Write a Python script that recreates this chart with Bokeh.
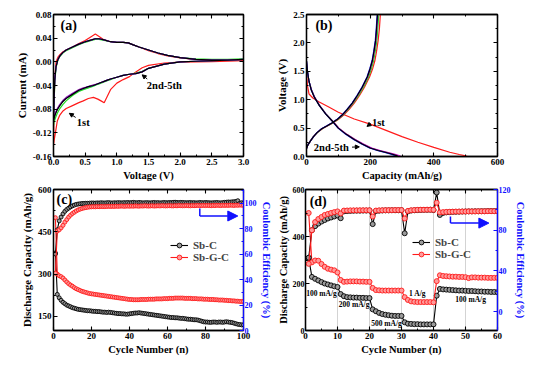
from bokeh.plotting import figure
from bokeh.layouts import row, column
from bokeh.models import (Range1d, LinearAxis, FixedTicker, Label, Arrow, NormalHead,
                          Legend, LegendItem, PrintfTickFormatter, CustomLabelingPolicy)
from bokeh.embed import file_html
from bokeh.resources import INLINE

FONT = "Liberation Serif"

# ---------------- (a) cyclic voltammetry ----------------
v_cath = [3.0, 2.75, 2.5, 2.25, 2.0, 1.75, 1.5, 1.4, 1.3, 1.2, 1.1, 1.0, 0.9, 0.85, 0.8, 0.75, 0.7,
          0.63, 0.55, 0.47, 0.4, 0.3, 0.2, 0.15, 0.1, 0.06, 0.03, 0.01, 0.0]
v_anod = [0.0, 0.01, 0.02, 0.04, 0.07, 0.1, 0.15, 0.2, 0.3, 0.4, 0.5, 0.6, 0.66, 0.72, 0.8, 0.9, 1.0,
          1.1, 1.18, 1.25, 1.35, 1.5, 1.65, 1.8, 2.0, 2.25, 2.5, 2.75, 3.0]
cv1_cath = [0.002, 0.001, 0.0005, 0.0, -0.0005, -0.002, -0.006, -0.010, -0.017, -0.025, -0.030, -0.036,
            -0.047, -0.058, -0.069, -0.066, -0.063, -0.060, -0.062, -0.066, -0.069, -0.074, -0.079,
            -0.083, -0.090, -0.100, -0.120, -0.133, -0.140]
cv1_anod = [-0.140, -0.070, -0.030, 0.0, 0.008, 0.012, 0.017, 0.020, 0.025, 0.031, 0.036, 0.043, 0.047,
            0.043, 0.037, 0.034, 0.033, 0.033, 0.032, 0.029, 0.025, 0.019, 0.014, 0.010, 0.0065,
            0.004, 0.003, 0.0025, 0.002]
cv2_cath = [0.004, 0.003, 0.002, 0.001, 0.0, -0.004, -0.011, -0.016, -0.019, -0.021, -0.023, -0.026,
            -0.030, -0.032, -0.034, -0.036, -0.038, -0.041, -0.044, -0.047, -0.050, -0.057, -0.066,
            -0.072, -0.079, -0.087, -0.095, -0.102, -0.108]
cv2_anod = [-0.108, -0.070, -0.035, -0.010, 0.003, 0.009, 0.015, 0.019, 0.024, 0.029, 0.033, 0.036,
            0.038, 0.038, 0.036, 0.034, 0.033, 0.033, 0.032, 0.029, 0.025, 0.020, 0.015, 0.011, 0.007,
            0.005, 0.004, 0.004, 0.005]
cv3_cath = [0.004, 0.003, 0.002, 0.001, 0.0, -0.004, -0.011, -0.017, -0.020, -0.021, -0.023, -0.026,
            -0.029, -0.031, -0.033, -0.035, -0.037, -0.040, -0.042, -0.045, -0.048, -0.054, -0.061,
            -0.066, -0.073, -0.080, -0.087, -0.094, -0.099]
cv3_anod = [-0.099, -0.060, -0.030, -0.008, 0.004, 0.010, 0.016, 0.020, 0.025, 0.030, 0.034, 0.037,
            0.039, 0.039, 0.037, 0.034, 0.033, 0.033, 0.032, 0.029, 0.025, 0.020, 0.015, 0.011, 0.007,
            0.004, 0.003, 0.003, 0.004]
cv4_cath = [0.004, 0.003, 0.002, 0.001, 0.0, -0.004, -0.011, -0.017, -0.020, -0.021, -0.023, -0.026,
            -0.029, -0.031, -0.033, -0.035, -0.037, -0.039, -0.042, -0.044, -0.047, -0.053, -0.060,
            -0.065, -0.072, -0.079, -0.086, -0.092, -0.097]
cv4_anod = [-0.097, -0.058, -0.029, -0.008, 0.004, 0.010, 0.016, 0.020, 0.025, 0.030, 0.034, 0.037,
            0.039, 0.039, 0.037, 0.034, 0.033, 0.033, 0.032, 0.029, 0.025, 0.020, 0.015, 0.011, 0.007,
            0.004, 0.003, 0.003, 0.004]
cv5_cath = [0.004, 0.003, 0.002, 0.001, 0.0, -0.004, -0.011, -0.017, -0.020, -0.021, -0.023, -0.026,
            -0.029, -0.031, -0.033, -0.035, -0.037, -0.040, -0.042, -0.045, -0.048, -0.055, -0.062,
            -0.067, -0.074, -0.081, -0.088, -0.095, -0.100]
cv5_anod = [-0.100, -0.060, -0.030, -0.008, 0.004, 0.010, 0.016, 0.020, 0.025, 0.030, 0.034, 0.037,
            0.039, 0.039, 0.037, 0.034, 0.033, 0.033, 0.032, 0.029, 0.025, 0.020, 0.015, 0.011, 0.007,
            0.004, 0.003, 0.003, 0.004]

# ---------------- (b) charge / discharge ----------------
v_dis1 = [1.48, 1.25, 1.10, 1.03, 0.96, 0.87, 0.78, 0.66, 0.57, 0.46, 0.35, 0.25, 0.16, 0.075, 0.035, 0.01, 0.0]
cap_dis1 = [0, 3, 8, 20, 40, 70, 100, 150, 200, 250, 300, 350, 400, 450, 480, 500, 505]
v_dis = [1.68, 1.50, 1.32, 1.17, 1.04, 0.90, 0.75, 0.63, 0.50, 0.39, 0.30, 0.22, 0.15, 0.105, 0.07, 0.04, 0.01, 0.0]
cap_dis2 = [0, 3, 8, 16, 26, 41, 61, 81, 101, 126, 152, 177, 202, 228, 253, 273, 288, 291]
cap_dis3 = [0, 3, 8, 15, 25, 40, 60, 79, 99, 123, 148, 173, 198, 222, 246, 265, 280, 283]
cap_dis4 = [0, 3, 8, 16, 26, 41, 61, 81, 102, 127, 153, 179, 205, 231, 257, 278, 293, 296]
cap_dis5 = [0, 3, 8, 15, 25, 40, 60, 80, 100, 125, 150, 175, 200, 225, 250, 270, 285, 288]
v_chg = [0.14, 0.21, 0.27, 0.35, 0.42, 0.49, 0.54, 0.59, 0.65, 0.73, 0.83, 0.94, 1.07, 1.22, 1.40, 1.55,
         1.69, 1.85, 2.04, 2.25, 2.5]
cap_chg1 = [0, 5, 12, 22, 34, 50, 67, 83, 100, 117, 134, 150, 166, 182, 198, 208, 215, 220, 225, 229, 232]
cap_chg2 = [0, 5, 12, 22, 34, 49, 66, 82, 98, 115, 131, 147, 163, 179, 195, 204, 211, 216, 221, 224, 227]
cap_chg3 = [0, 5, 12, 22, 33, 47, 64, 79, 95, 111, 127, 143, 158, 174, 190, 199, 206, 211, 216, 219, 222]
cap_chg4 = [0, 5, 12, 22, 33, 48, 65, 80, 96, 113, 129, 145, 160, 176, 192, 201, 208, 213, 218, 221, 224]
cap_chg5 = [0, 5, 12, 22, 33, 48, 65, 80, 96, 112, 128, 144, 159, 175, 191, 200, 207, 212, 217, 220, 223]

# ---------------- (c) cycling ----------------
cyc_c = list(range(1, 101))
sbc_cap_c = [375, 228, 216, 207, 200, 195, 190, 187, 184, 181,
             179, 177, 175, 174, 173, 172, 171, 170, 170, 169,
             168, 168, 167, 167, 166, 165, 165, 164, 165, 164,
             163, 162, 161, 160, 160, 159, 159, 158, 158, 159,
             160, 161, 162, 162, 163, 162, 161, 160, 159, 158,
             157, 156, 155, 154, 153, 152, 151, 150, 149, 148,
             147, 146, 146, 145, 145, 144, 143, 143, 142, 141,
             140, 140, 139, 138, 138, 137, 135, 133, 131, 130,
             130, 129, 129, 130, 130, 129, 130, 130, 129, 130,
             131, 130, 129, 128, 126, 124, 122, 121, 120, 120]
sbgc_cap_c = [500, 300, 294, 291, 286, 279, 272, 266, 261, 257,
              252, 248, 245, 242, 239, 237, 235, 233, 231, 230,
              229, 228, 227, 226, 225, 224, 223, 222, 221, 220,
              219, 218, 217, 216, 215, 214, 213, 212, 211, 210,
              210, 209, 209, 209, 209, 210, 210, 210, 210, 211,
              211, 211, 211, 212, 212, 212, 212, 213, 213, 213,
              214, 214, 214, 215, 215, 215, 215, 215, 214, 214,
              214, 214, 213, 213, 213, 212, 212, 212, 211, 211,
              211, 210, 210, 210, 209, 209, 208, 208, 208, 207,
              207, 206, 206, 205, 205, 204, 204, 203, 203, 203]
sbc_ce_c = [60, 79, 86, 89, 91.5, 93.5, 95, 96, 97, 97.8,
            98.4, 98.9, 99.2, 99.4, 99.6, 99.7, 99.8, 99.8, 99.9, 100,
            100, 99.9, 100.1, 100, 100.2, 100.1, 100, 100.2, 100.3, 100.1,
            100, 100.2, 100.1, 100.3, 100.2, 100.1, 100.3, 100.2, 100.4, 100.2,
            100.3, 100.5, 100.3, 100.2, 100.4, 100.3, 100.1, 100.2, 100.3, 100.2,
            100.1, 100.3, 100.4, 100.2, 100.3, 100.1, 100.2, 100.4, 100.3, 100.2,
            100.4, 100.3, 100.5, 100.6, 100.4, 100.3, 100.5, 100.4, 100.3, 100.2,
            100.3, 100.4, 100.2, 100.3, 100.1, 100.2, 100.4, 100.3, 100.2, 100.4,
            100.3, 100.2, 100.1, 100.2, 100.3, 100.4, 100.2, 100.1, 100.3, 100.5,
            100.6, 100.8, 100.7, 100.9, 101.0, 101.2, 101.8, 99.8, 100.2, 100.0]
sbgc_ce_c = [45, 78, 79, 80.5, 82.5, 85, 87, 89, 90.5, 91.8,
             92.8, 93.8, 94.6, 95.2, 95.7, 96.1, 96.4, 96.7, 96.9, 97.0,
             97.1, 97.0, 97.2, 97.1, 97.3, 97.2, 97.2, 97.3, 97.4, 97.3,
             97.4, 97.3, 97.5, 97.4, 97.5, 97.6, 97.4, 97.5, 97.6, 97.5,
             97.6, 97.5, 97.7, 97.6, 97.5, 97.7, 97.6, 97.8, 97.7, 97.6,
             97.7, 97.8, 97.6, 97.7, 97.8, 97.7, 97.9, 97.8, 97.7, 97.8,
             97.9, 97.8, 97.7, 97.9, 97.8, 98.0, 97.9, 97.8, 97.9, 98.0,
             97.9, 97.8, 98.0, 97.9, 98.0, 98.1, 97.9, 98.0, 98.1, 98.0,
             98.1, 98.0, 97.9, 98.1, 98.0, 98.2, 98.1, 98.0, 98.2, 98.1,
             98.2, 98.1, 98.3, 98.2, 98.1, 98.3, 98.2, 98.4, 98.3, 98.2]

# ---------------- (d) rate ----------------
cyc_d = list(range(1, 61))
sbc_cap_d = [308, 228, 220, 213, 206, 200, 196, 192, 188, 185,
             155, 146, 142, 141, 140, 140, 139, 139, 138, 138,
             90, 82, 75, 70, 67, 65, 63, 62, 62, 62,
             35, 29, 28, 27, 27, 26, 26, 26, 26, 26,
             148, 177, 175, 174, 173, 172, 171, 170, 170, 169,
             168, 168, 167, 166, 166, 165, 165, 164, 164, 163]
sbgc_cap_d = [500, 290, 298, 297, 283, 271, 263, 259, 256, 247,
              215, 207, 208, 209, 209, 209, 208, 208, 207, 207,
              181, 172, 171, 170, 170, 170, 170, 170, 170, 170,
              142, 130, 124, 122, 121, 121, 121, 121, 121, 120,
              210, 235, 232, 231, 230, 229, 229, 228, 228, 227,
              223, 226, 226, 225, 225, 225, 224, 224, 224, 224]
sbc_ce_d = [53, 80, 84, 86.5, 88.5, 90, 91.5, 92.5, 93.5, 94.5,
            91.8, 98.5, 98.8, 99, 99.1, 99.2, 99.2, 99.3, 99.3, 99.4,
            86, 98.8, 99.2, 99.4, 99.5, 99.5, 99.6, 99.6, 99.6, 99.7,
            77, 98.5, 99.3, 99.6, 99.8, 99.9, 100, 100, 100.1, 99.8,
            117, 95, 97, 97.5, 97.8, 98, 98.1, 98.2, 98.3, 98.4,
            98.5, 98.5, 98.6, 98.6, 98.7, 98.7, 98.8, 98.8, 98.8, 98.9]
sbgc_ce_d = [47, 80, 88, 91, 93, 95, 96, 97, 97.8, 98.5,
             96.5, 99.3, 99.4, 99.5, 99.5, 99.5, 99.6, 99.6, 99.6, 99.6,
             93.5, 99.3, 99.5, 99.6, 99.7, 99.7, 99.7, 99.8, 99.8, 99.8,
             91.5, 99, 99.6, 99.8, 100, 100.1, 100.1, 100.2, 100.2, 100,
             107, 97.5, 97.8, 98, 98.1, 98.2, 98.3, 98.3, 98.4, 98.4,
             98.5, 98.5, 98.5, 98.6, 98.6, 98.6, 98.7, 98.7, 98.7, 98.8]
rate_labels = ["100 mA/g", "200 mA/g", "500 mA/g", "1 A/g", "100 mA/g"]
rate_x = [5.0, 15.2, 25.3, 35.0, 51.6]
rate_y = [156, 109, 31, 159, 131]

# tick lists
a_xt = [0.0, 0.5, 1.0, 1.5, 2.0, 2.5, 3.0]
a_xm = [0.25, 0.75, 1.25, 1.75, 2.25, 2.75]
a_yt = [-0.16, -0.12, -0.08, -0.04, 0.0, 0.04, 0.08]
a_ym = [-0.14, -0.10, -0.06, -0.02, 0.02, 0.06]
b_xt = [0, 200, 400, 600]
b_xm = [100, 300, 500]
b_yt = [0.0, 0.5, 1.0, 1.5, 2.0, 2.5]
b_ym = [0.25, 0.75, 1.25, 1.75, 2.25]
c_xt = [0, 20, 40, 60, 80, 100]
c_xm = [10, 30, 50, 70, 90]
c_yt = [150, 300, 450, 600]
c_ym = [225, 375, 525]
c_rt = [0, 20, 40, 60, 80, 100]
c_rm = [10, 30, 50, 70, 90, 110]
d_xt = [0, 10, 20, 30, 40, 50, 60]
d_xm = [5, 15, 25, 35, 45, 55]
d_yt = [0, 200, 400, 600]
d_ym = [100, 300, 500]
d_rt = [0, 40, 80, 120]
d_rm = [-20, 20, 60, 100]

TICK_FS = "9px"
LAB_FS = "10.5px"
VLAB_FS = "11px"
BLUE = "#1010ff"

NO_LABELS = CustomLabelingPolicy(code="for (const i of indices) { indices.unset(i) }\nreturn indices")


def style_axis(ax, color="black", label_fs=LAB_FS, labels=True):
    ax.axis_line_color = color
    ax.axis_line_width = 1.3
    ax.major_tick_line_color = color
    ax.minor_tick_line_color = color
    ax.major_tick_line_width = 1.1
    ax.minor_tick_line_width = 1.0
    ax.major_tick_in = 4
    ax.major_tick_out = 0
    ax.minor_tick_in = 2
    ax.minor_tick_out = 0
    ax.major_label_text_font = FONT
    ax.major_label_text_font_style = "bold"
    ax.major_label_text_color = color
    ax.major_label_text_font_size = TICK_FS
    ax.axis_label_text_font = FONT
    ax.axis_label_text_font_style = "bold"
    ax.axis_label_text_color = color
    ax.axis_label_text_font_size = label_fs
    ax.major_label_standoff = 2
    ax.axis_label_standoff = 2
    if not labels:
        ax.major_label_policy = NO_LABELS
        ax.major_label_text_font_size = "1px"
        ax.major_label_standoff = 0
        ax.axis_label = None


def compact(ax, tick_fs="8px", lab_fs="10.5px"):
    ax.major_label_standoff = 1
    ax.axis_label_standoff = 1
    ax.major_label_text_font_size = tick_fs
    ax.axis_label_text_font_size = lab_fs


def make_fig(xr, yr, fw, fh, bl, br, bt, bb):
    p = figure(x_range=Range1d(*xr), y_range=Range1d(*yr), frame_width=fw, frame_height=fh,
               min_border_left=bl, min_border_right=br, min_border_top=bt, min_border_bottom=bb,
               output_backend="svg", toolbar_location=None)
    p.xgrid.visible = False
    p.ygrid.visible = False
    p.outline_line_color = "black"
    p.outline_line_width = 1.3
    return p


def ticks(p, xt, xm, yt, ym, xlabel, ylabel, xfmt=None, yfmt=None, mirror_right=True):
    bx = p.below[0]
    ly = p.left[0]
    bx.ticker = FixedTicker(ticks=xt, minor_ticks=xm)
    ly.ticker = FixedTicker(ticks=yt, minor_ticks=ym)
    if xfmt:
        bx.formatter = PrintfTickFormatter(format=xfmt)
    if yfmt:
        ly.formatter = PrintfTickFormatter(format=yfmt)
    style_axis(bx)
    style_axis(ly, label_fs=VLAB_FS)
    bx.axis_label = xlabel
    ly.axis_label = ylabel
    top = LinearAxis(ticker=FixedTicker(ticks=xt, minor_ticks=xm))
    style_axis(top, labels=False)
    p.add_layout(top, "above")
    if mirror_right:
        rt = LinearAxis(ticker=FixedTicker(ticks=yt, minor_ticks=ym))
        style_axis(rt, labels=False)
        p.add_layout(rt, "right")
    return ly


def txt(p, x, y, t, fs, align="center", color="black"):
    p.add_layout(Label(x=x, y=y, text=t, text_font=FONT, text_font_style="bold", text_font_size=fs,
                       text_align=align, text_baseline="middle", text_color=color))


def small_arrow(p, x0, y0, x1, y1):
    p.add_layout(Arrow(x_start=x0, y_start=y0, x_end=x1, y_end=y1, line_width=1, line_color="black",
                       end=NormalHead(size=4, fill_color="black", line_color="black")))


# ===== panel (a)
pa = make_fig((0, 3.0), (-0.16, 0.08), 190, 142, 53, 29, 14, 29)
ticks(pa, a_xt, a_xm, a_yt, a_ym, "Voltage (V)", "Current (mA)", xfmt="%.1f", yfmt="%.2f")
cv_sets = [(cv1_cath, cv1_anod, "#ff1a1a"), (cv2_cath, cv2_anod, "#22dd22"),
           (cv3_cath, cv3_anod, "#1a1aff"), (cv4_cath, cv4_anod, "#a020c0"),
           (cv5_cath, cv5_anod, "black")]
for cth, an, col in cv_sets:
    pa.line(v_cath + v_anod, cth + an, line_color=col, line_width=1.2)
txt(pa, 0.11, 0.0614, "(a)", "14px", align="left")
txt(pa, 1.75, -0.040, "2nd-5th", "10.5px")
txt(pa, 0.47, -0.102, "1st", "10.5px")
small_arrow(pa, 1.48, -0.029, 1.40, -0.022)
small_arrow(pa, 0.35, -0.094, 0.25, -0.087)

# ===== panel (b)
pb = make_fig((0, 600), (0, 2.5), 191, 142, 34, 43, 14, 29)
ticks(pb, b_xt, b_xm, b_yt, b_ym, "Capacity (mAh/g)", "Voltage (V)", yfmt="%.1f")
pb.line(cap_dis1, v_dis1, line_color="#ff1a1a", line_width=1.2)
pb.line(cap_chg1, v_chg, line_color="#ff1a1a", line_width=1.2)
for cd, cc, col in [(cap_dis2, cap_chg2, "#22dd22"), (cap_dis4, cap_chg4, "#cc00cc"),
                    (cap_dis3, cap_chg3, "#1a1aff"), (cap_dis5, cap_chg5, "black")]:
    pb.line(cd, v_dis, line_color=col, line_width=1.2)
    pb.line(cc, v_chg, line_color=col, line_width=1.2)
txt(pb, 28, 2.31, "(b)", "14px", align="left")
txt(pb, 226, 0.60, "1st", "10.5px")
txt(pb, 78, 0.15, "2nd-5th", "10.5px")
small_arrow(pb, 202, 0.58, 190, 0.53)
small_arrow(pb, 143, 0.165, 166, 0.17)


def cycling_panel(p, cyc, bcap, rcap, bce, rce, msize):
    lb = p.line(cyc, bcap, line_color="black", line_width=1.1)
    sb = p.scatter(cyc, bcap, marker="circle", size=msize, line_color="black", fill_color="#9a9a9a",
                   line_width=0.9)
    lr = p.line(cyc, rcap, line_color="#ff1a1a", line_width=1.1)
    sr = p.scatter(cyc, rcap, marker="circle", size=msize, line_color="#ff1a1a", fill_color="#ff9a9a",
                   line_width=0.9)
    p.line(cyc, bce, line_color="black", line_width=1.1, y_range_name="ce")
    p.scatter(cyc, bce, marker="circle", size=msize, line_color="black", fill_color="#9a9a9a",
              line_width=0.9, y_range_name="ce")
    p.line(cyc, rce, line_color="#ff1a1a", line_width=1.1, y_range_name="ce")
    p.scatter(cyc, rce, marker="circle", size=msize, line_color="#ff1a1a", fill_color="#ff9a9a",
              line_width=0.9, y_range_name="ce")
    return [(lb, sb), (lr, sr)]


def add_legend(p, rends, loc):
    items = [LegendItem(label="Sb-C", renderers=list(rends[0])),
             LegendItem(label="Sb-G-C", renderers=list(rends[1]))]
    lg = Legend(items=items, location=loc, border_line_color=None, background_fill_alpha=0,
                label_text_font=FONT, label_text_font_style="bold", label_text_font_size="11px",
                glyph_width=18, glyph_height=12, label_height=12, spacing=0, padding=0, margin=0,
                label_standoff=5)
    p.add_layout(lg)


def blue_arrow(p, x0, y0, y1, x1):
    p.add_layout(Arrow(x_start=x0, y_start=y0, x_end=x0, y_end=y1, line_color=BLUE, line_width=1.5,
                       end=None))
    p.add_layout(Arrow(x_start=x0, y_start=y1, x_end=x1, y_end=y1, line_color=BLUE, line_width=1.5,
                       end=NormalHead(size=10, fill_color=BLUE, line_color=BLUE)))


def right_axis(p, rng, rt, rm):
    p.extra_y_ranges = {"ce": Range1d(*rng)}
    ax = LinearAxis(y_range_name="ce", ticker=FixedTicker(ticks=rt, minor_ticks=rm))
    style_axis(ax, color=BLUE, label_fs=VLAB_FS)
    ax.axis_label = "Coulombic Efficiency (%)"
    compact(ax)
    p.add_layout(ax, "right")
    return ax


# ===== panel (c)
pc = make_fig((0, 100), (100, 600), 190, 141, 53, 29, 3, 29)
ticks(pc, c_xt, c_xm, c_yt, c_ym, "Cycle Number (n)", "Discharge Capacity (mAh/g)", mirror_right=False)
right_axis(pc, (0, 110.6), c_rt, c_rm)
rc = cycling_panel(pc, cyc_c, sbc_cap_c, sbgc_cap_c, sbc_ce_c, sbgc_ce_c, 4)
add_legend(pc, rc, (117, 67))
blue_arrow(pc, 77, 533, 506, 97)
txt(pc, 1.6, 565, "(c)", "14px", align="left")

# ===== panel (d)
pd = make_fig((0, 60), (0, 600), 192, 141, 31, 43, 3, 29)
lyd = ticks(pd, d_xt, d_xm, d_yt, d_ym, "Cycle Number (n)", "Discharge Capacity (mAh/g)", mirror_right=False)
compact(lyd)
right_axis(pd, (-18.5, 120), d_rt, d_rm)
pd.xgrid.visible = True
pd.xgrid.ticker = FixedTicker(ticks=[10, 20, 30, 40, 50])
pd.xgrid.grid_line_color = "#c8c8c8"
pd.xgrid.grid_line_width = 0.8
rd = cycling_panel(pd, cyc_d, sbc_cap_d, sbgc_cap_d, sbc_ce_d, sbgc_ce_d, 5)
add_legend(pd, rd, (107, 70))
blue_arrow(pd, 45.3, 485, 457, 57.3)
txt(pd, 1.3, 549, "(d)", "14px", align="left")
for t, x, y in zip(rate_labels, rate_x, rate_y):
    txt(pd, x, y, t, "7.5px")

layout = column(row(pa, pb), row(pc, pd))
open("out.html", "w").write(file_html(layout, INLINE))
